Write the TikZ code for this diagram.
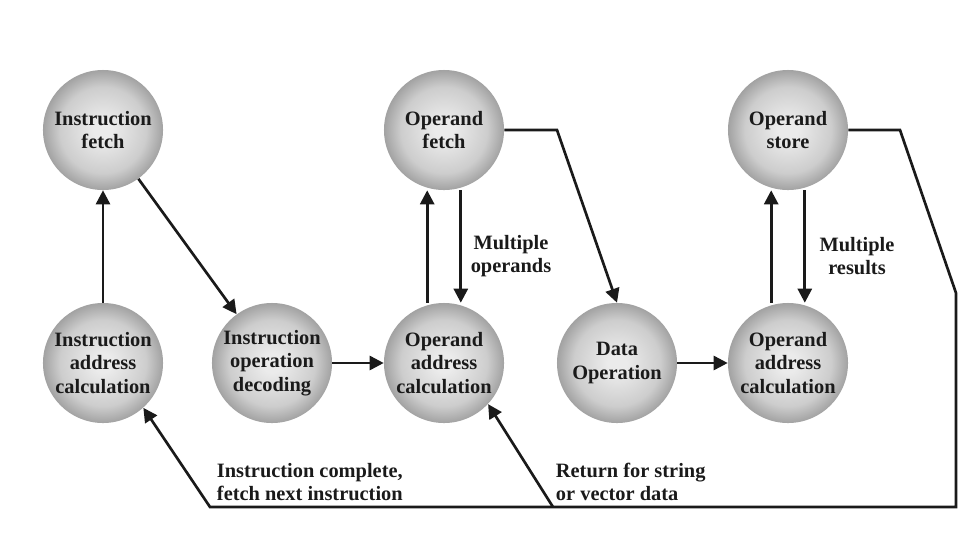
\documentclass[tikz,border=0pt]{standalone}
\usepackage{fontspec}
\setmainfont{Liberation Serif}
\usepackage{tikz}
\usetikzlibrary{arrows.meta, positioning, calc}
\definecolor{cyclelight}{HTML}{EBEBEB}
\definecolor{cyclemid}{HTML}{CDCDCD}
\definecolor{cycledark}{HTML}{A2A2A2}
\definecolor{cycleink}{HTML}{1A1A1A}
\pgfdeclareradialshading{cycleball}{\pgfpoint{0bp}{0bp}}{color(0bp)=(cyclelight); color(4bp)=(cyclelight); color(18bp)=(cyclemid); color(25bp)=(cycledark); color(50bp)=(cycledark)}

\begin{document}
\begin{tikzpicture}[x=0.025cm, y=-0.025cm,
  font=\fontsize{14.5}{16.5}\selectfont\bfseries,
  stage/.style={circle, shading=cycleball, minimum size=3cm, inner sep=0pt,
    align=center, text=cycleink},
  flow/.style={-{Triangle[length=10pt, width=10pt]}, line width=1.9pt, cycleink},
  note/.style={align=left, anchor=north west, text=cycleink}]
  \useasboundingbox (0,0) rectangle (975,548);
  \def\ytop{130} % upper row
  \def\ybot{363} % lower row
  \def\dx{0.42cm} % offset of paired arrows
  % states
  \node[stage] (ifetch) at (103,\ytop) {Instruction\\fetch};
  \node[stage] (ofetch) at (444,\ytop) {Operand\\fetch};
  \node[stage] (ostore) at (788,\ytop) {Operand\\store};
  \node[stage] (iaddr) at (103,\ybot) {Instruction\\address\\calculation};
  \node[stage] (idecode) at (272,\ybot) {Instruction\\operation\\decoding};
  \node[stage] (oaddr) at (444,\ybot) {Operand\\address\\calculation};
  \node[stage] (dataop) at (617,\ybot) {Data\\Operation};
  \node[stage] (raddr) at (788,\ybot) {Operand\\address\\calculation};
  % labels
  \node[align=center, text=cycleink] (oplabel) at (511,256) {Multiple\\operands};
  \node[align=center, text=cycleink] (reslabel) at (857,256) {Multiple\\results};
  \node[note] (donelabel) at (212,458) {Instruction complete,\\fetch next instruction};
  \node[note] (veclabel) at (551,458) {Return for string\\or vector data};
  % cycle
  \draw[flow] (iaddr) -- (ifetch);
  \draw[flow] (ifetch) -- (idecode);
  \draw[flow] (idecode) -- (oaddr);
  \draw[flow] ([xshift=-\dx]oaddr.north) -- ([xshift=-\dx]ofetch.south);
  \draw[flow] ([xshift=\dx]ofetch.south) -- ([xshift=\dx]oaddr.north);
  \draw[flow] (ofetch.east) -- (557,\ytop) -- (dataop.north);
  \draw[flow] (dataop) -- (raddr);
  \draw[flow] ([xshift=-\dx]raddr.north) -- ([xshift=-\dx]ostore.south);
  \draw[flow] ([xshift=\dx]ostore.south) -- ([xshift=\dx]raddr.north);
  % return paths
  \coordinate (corner) at (956,507);
  \coordinate (retsplit) at (553,507);
  \draw[flow] (ostore.east) -- (900,\ytop) -- (956,293) -- (corner)
    -- (210,507) -- (iaddr.-48);
  \draw[flow] (retsplit) -- (oaddr.-43);
\end{tikzpicture}
\end{document}
